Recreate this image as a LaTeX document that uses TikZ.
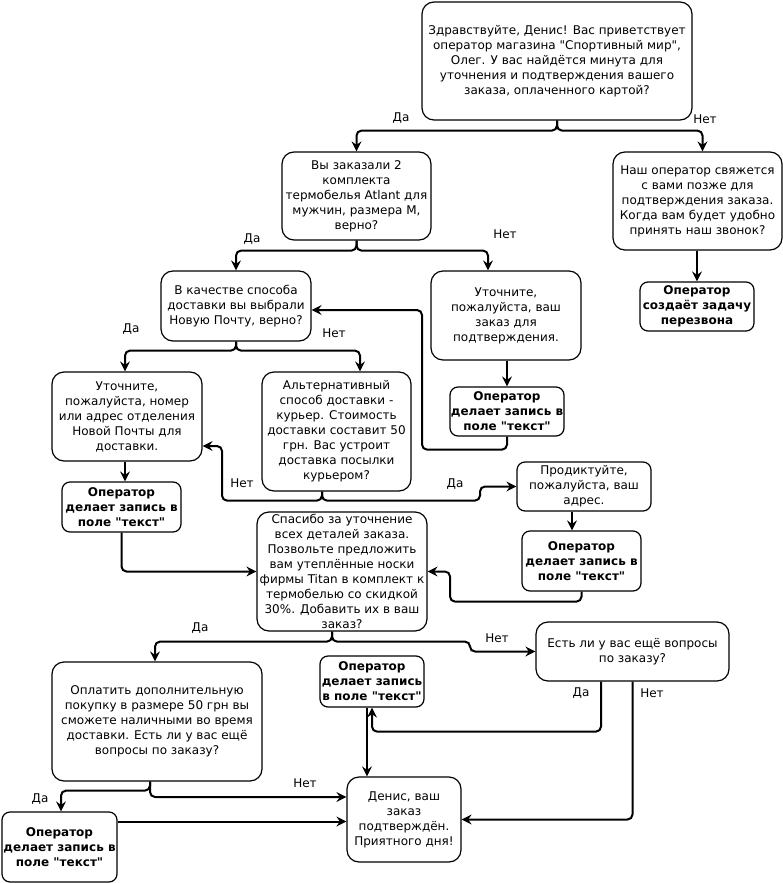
\documentclass[tikz,border=0pt]{standalone}
\usepackage{fontspec}
\setmainfont{DejaVu Sans}[Ligatures=TeXOff]
\usetikzlibrary{arrows.meta,positioning}

\tikzset{
  box/.style={draw, line width=1.2pt, rounded corners=12pt, align=center, inner sep=0pt,
    fill=white, font=\fontsize{12}{15}\selectfont},
  opbox/.style={box, rounded corners=8pt, font=\fontsize{12}{15}\selectfont\bfseries},
  conn/.style={draw, line width=2pt, rounded corners=5pt,
    -{Stealth[length=10pt,width=10pt,inset=3.5pt]}},
  lbl/.style={font=\fontsize{12}{15}\selectfont, inner sep=0pt},
}

\begin{document}
\begin{tikzpicture}[x=1pt,y=-1pt]
                \useasboundingbox (0,0) rectangle (783,883);

                % Drawing question boxes
                \node [box, minimum width=270, minimum height=118] (greet) at (557,61)
                  {Здравствуйте, Денис! Вас приветствует\\оператор магазина "Спортивный мир",\\Олег. У вас найдётся минута для\\уточнения и подтверждения вашего\\заказа, оплаченного картой?};
                \node [box, minimum width=149, minimum height=88] (order) at (356.5,196)
                  {Вы заказали 2\\комплекта\\термобелья Atlant для\\мужчин, размера М,\\верно?};
                \node [box, minimum width=169, minimum height=98] (later) at (697.5,201)
                  {Наш оператор свяжется\\с вами позже для\\подтверждения заказа.\\Когда вам будет удобно\\принять наш звонок?};
                \node [box, minimum width=150, minimum height=70] (post) at (236,306)
                  {В качестве способа\\доставки вы выбрали\\Новую Почту, верно?};
                \node [box, minimum width=150, minimum height=89] (askorder) at (506,315.5)
                  {Уточните,\\пожалуйста, ваш\\заказ для\\подтверждения.};
                \node [box, minimum width=150, minimum height=89] (branch) at (127,416.5)
                  {Уточните,\\пожалуйста, номер\\или адрес отделения\\Новой Почты для\\доставки.};
                \node [box, minimum width=149, minimum height=119] (courier) at (336.5,431.5)
                  {Альтернативный\\способ доставки -\\курьер. Стоимость\\доставки составит 50\\грн. Вас устроит\\доставка посылки\\курьером?};
                \node [box, rounded corners=8pt, minimum width=134, minimum height=49] (address) at (584,486.5)
                  {Продиктуйте,\\пожалуйста, ваш\\адрес.};
                \node [box, minimum width=170, minimum height=119] (offer) at (342,571.5)
                  {Спасибо за уточнение\\всех деталей заказа.\\Позвольте предложить\\вам утеплённые носки\\фирмы Titan в комплект к\\термобелью со скидкой\\30\%. Добавить их в ваш\\заказ?};
                \node [box, minimum width=210, minimum height=119] (pay) at (157,721.5)
                  {Оплатить дополнительную\\покупку в размере 50 грн вы\\сможете наличными во время\\доставки. Есть ли у вас ещё\\вопросы по заказу?};
                \node [box, minimum width=193, minimum height=59] (more) at (632.5,651.5)
                  {Есть ли у вас ещё вопросы\\по заказу?};
                \node [box, minimum width=114, minimum height=85] (final) at (404,819.5)
                  {Денис, ваш\\заказ\\подтверждён.\\Приятного дня!};

                % Drawing operator boxes
                \node [opbox, minimum width=114, minimum height=49] (recall) at (697,306.5)
                  {Оператор\\создаёт задачу\\перезвона};
                \node [opbox, minimum width=114, minimum height=49] (rec1) at (507,411.5)
                  {Оператор\\делает запись в\\поле "текст"};
                \node [opbox, minimum width=119, minimum height=50] (rec2) at (121.5,507)
                  {Оператор\\делает запись в\\поле "текст"};
                \node [opbox, minimum width=119, minimum height=60] (rec3) at (581.5,561)
                  {Оператор\\делает запись в\\поле "текст"};
                \node [opbox, minimum width=104, minimum height=51] (rec4) at (372,681.5)
                  {Оператор\\делает запись\\в поле "текст"};
                \node [opbox, minimum width=115, minimum height=70] (rec5) at (59.5,847)
                  {Оператор\\делает запись в\\поле "текст"};

                % Drawing connectors
                \draw [conn] (greet.south) -- ++(0,10) -| (order.north);
                \draw [conn] (greet.south) -- ++(0,10) -| ([xshift=5pt]later.north);
                \draw [conn] (later.south -| recall.north) -- (recall.north);
                \draw [conn] (order.south) -- ++(0,10) -| (post.north);
                \draw [conn] (order.south) -- ++(0,10) -| ([xshift=-18pt]askorder.north);
                \draw [conn] (askorder.south -| rec1.north) -- (rec1.north);
                \draw [conn] (rec1.south) -- ++(0,13) -- ++(-85,0) |- ([yshift=-4pt]post.east);
                \draw [conn] (post.south) -- ++(0,9) -| ([xshift=-2pt]branch.north);
                \draw [conn] (post.south) -- ++(0,9) -| ([xshift=23.5pt]courier.north);
                \draw [conn] ([xshift=-2pt]branch.south) -- ([xshift=-2pt]branch.south |- rec2.north);
                \draw [conn] ([xshift=-14.5pt]courier.south) -- ++(0,9) -- ++(-100,0) |- ([yshift=-29.5pt]branch.east);
                \draw [conn] ([xshift=-14.5pt]courier.south) -- ++(0,9) -- ++(158,0) |- (address.west);
                \draw [conn] ([xshift=-12pt]address.south) -- ([xshift=-12pt]address.south |- rec3.north);
                \draw [conn] (rec3.south) -- ++(0,10) -- ++(-131.5,0) |- (offer.east);
                \draw [conn] (rec2.south) |- (offer.west);
                \draw [conn] ([xshift=-10pt]offer.south) -- ++(0,10) -| ([xshift=-2pt]pay.north);
                \draw [conn] ([xshift=-10pt]offer.south) -- ++(0,10) -- ++(138,0) |- (more.west);
                \draw [conn] ([xshift=-31.5pt]more.south) -- ++(0,50) -| (rec4.south);
                \draw [conn] ([xshift=-5pt]rec4.south) -- ([xshift=-5pt]rec4.south |- final.north);
                \draw [conn] (more.south) |- (final.east);
                \draw [conn] ([xshift=-7pt]pay.south) |- ([yshift=22.5pt]final.west);
                \draw [conn] ([xshift=-7pt]pay.south) -- ++(0,9) -| ([xshift=1.5pt]rec5.north);
                \draw [conn] ([yshift=25.5pt]rec5.east) -- ([yshift=25.5pt]rec5.east -| final.west);

                % Marking answers
                \node [lbl] (l1) at (401,118) {Да};
                \node [lbl] (l2) at (705,119) {Нет};
                \node [lbl] (l3) at (252,239) {Да};
                \node [lbl] (l4) at (505,234) {Нет};
                \node [lbl] (l5) at (131,329) {Да};
                \node [lbl] (l6) at (334,333) {Нет};
                \node [lbl] (l7) at (242,483) {Нет};
                \node [lbl] (l8) at (455,484) {Да};
                \node [lbl] (l9) at (200,628) {Да};
                \node [lbl] (l10) at (497,638) {Нет};
                \node [lbl] (l11) at (581,693) {Да};
                \node [lbl] (l12) at (652,693) {Нет};
                \node [lbl] (l13) at (305,783) {Нет};
                \node [lbl] (l14) at (40,799) {Да};
\end{tikzpicture}
\end{document}
